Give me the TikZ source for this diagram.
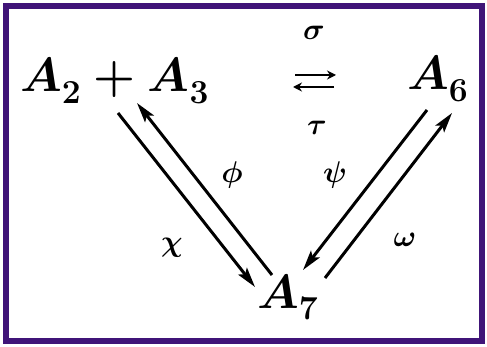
\RequirePackage{fix-cm}
\documentclass[tikz,border=0pt]{standalone}
\usepackage{amsmath,amssymb}
\usepackage{bm}
\usetikzlibrary{arrows.meta, calc}
\definecolor{framepurple}{RGB}{64,20,120}
\newcommand{\spc}[2]{#1_{\raisebox{-4pt}{$\scriptstyle #2$}}}
\tikzset{
    species/.style={inner sep=0pt, font=\fontsize{48}{52}\selectfont\boldmath},
    ratelabel/.style={inner sep=0pt, font=\fontsize{30}{34}\selectfont\boldmath},
    rxnarrow/.style={-{Stealth[length=20pt,width=11pt,inset=4pt]}, line width=3pt},
    eqarrow/.style={-{Stealth[length=9pt,width=9pt]}, line width=2.6pt}
}

\begin{document}
\begin{tikzpicture}[x=1pt,y=-1pt]
    \useasboundingbox (0,0) rectangle (487,347);
    \draw[framepurple, line width=6pt] (6,6) rectangle (482,341);

    \node[species, anchor=base west] (A23) at (20,92) {$\spc{A}{2} + \spc{A}{3}$};
    \node[species, anchor=base west] (A6) at (407,90) {$\spc{A}{6}$};
    \node[species, anchor=base west] (A7) at (257,308) {$\spc{A}{7}$};

    % reversible step at the top
    \coordinate (eqL) at (293,81);
    \coordinate (eqR) at (336,81);
    \draw[eqarrow] ($(eqL)+(2,-6)$) -- ($(eqR)+(0,-6)$);
    \draw[eqarrow] ($(eqR)+(-2,6)$) -- ($(eqL)+(0,6)$);
    \node[ratelabel] (sigma) at (314,33) {$\sigma$};
    \node[ratelabel] (tau) at (317,128) {$\tau$};

    % left branch
    \draw[rxnarrow] ($(A23.base west)+(98,21)$) -- ($(A7.base west)+(-2,-21)$);
    \draw[rxnarrow] ($(A7.base west)+(15,-33)$) -- ($(A23.base west)+(117,11)$);
    \node[ratelabel] (phi) at (232,175) {$\phi$};
    \node[ratelabel] (chi) at (172,248) {$\chi$};

    % right branch
    \draw[rxnarrow] ($(A6.base west)+(20,20)$) -- ($(A7.base west)+(46,-38)$);
    \draw[rxnarrow] ($(A7.base west)+(68,-30)$) -- ($(A6.base west)+(45,23)$);
    \node[ratelabel] (psi) at (335,175) {$\psi$};
    \node[ratelabel] (omega) at (405,240) {$\omega$};
\end{tikzpicture}
\end{document}
